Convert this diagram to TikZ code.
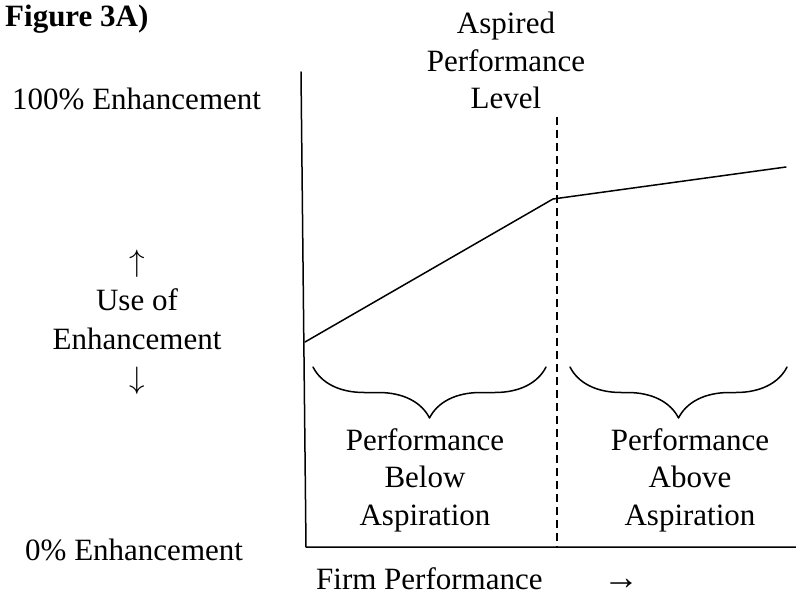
\RequirePackage{fix-cm}
\documentclass[tikz,border=0pt]{standalone}
\usepackage{fontspec}
\setmainfont{Liberation Serif}
\usetikzlibrary{decorations.pathreplacing}
\newcommand{\bigtext}{\fontsize{31}{37.5}\selectfont}
\begin{document}
\begin{tikzpicture}[x=1pt, y=-1pt, line join=round, line cap=round, font=\bigtext,
	txt/.style={inner sep=0pt, align=center},
	thick line/.style={line width=1.5pt}]
	\def\xa{557} % muc ky vong
	\def\yb{367} % dau ngoac
	\useasboundingbox (0,0) rectangle (796,596);
	\coordinate (T) at (301,72);
	\coordinate (O) at (306,547);
	\coordinate (E) at (796,547);
	\coordinate (A) at (305,342);
	\coordinate (K) at (553,199);
	\coordinate (B) at (786,167);
	\coordinate (D1) at (\xa,117);
	\coordinate (D2) at (\xa,547);
	\draw[thick line] (T)--(O)--(E);
	\draw[thick line] (A)--(K)--(B);
	\draw[thick line, line cap=butt, dash pattern=on 8pt off 5pt] (D1)--(D2);
	\foreach \a/\b in {546/313, 787/570}
		\draw[thick line, decorate, decoration={brace, amplitude=51pt}] (\a,\yb)--(\b,\yb);
	% nhan
	\node[txt, anchor=base west, font=\bfseries\bigtext] (fig) at (5,27) {Figure 3A)};
	\node[txt, anchor=north] (asp) at (506,12) {Aspired\\Performance\\Level};
	\node[txt, anchor=base west] (top) at (12,110) {100\% Enhancement};
	\node[txt, anchor=base west] (bot) at (25,560) {0\% Enhancement};
	\node[txt, anchor=north, font=\fontsize{31}{39}\selectfont] (use) at (137,250) {$\uparrow$\\Use of\\Enhancement\\$\downarrow$};
	\node[txt, anchor=north] (below) at (425,428) {Performance\\Below\\Aspiration};
	\node[txt, anchor=north] (above) at (690,428) {Performance\\Above\\Aspiration};
	\node[txt, anchor=base west] (firm) at (316,589) {Firm Performance};
	\node[txt, anchor=base west, font=\fontsize{36}{40}\selectfont] (arr) at (603,589) {→};
\end{tikzpicture}
\end{document}
